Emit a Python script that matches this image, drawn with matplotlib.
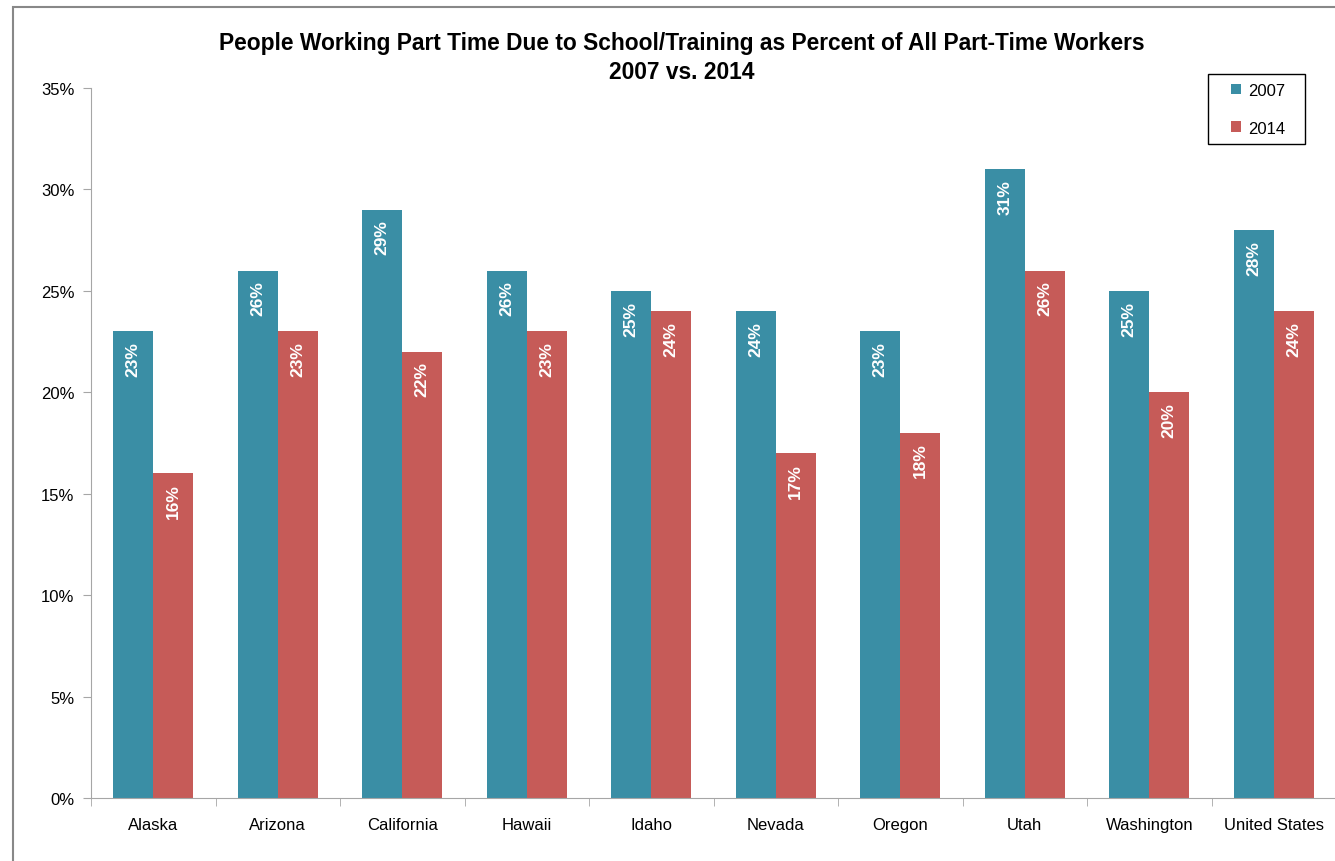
import matplotlib.pyplot as plt
from matplotlib.patches import Rectangle
import numpy as np

# Données
states = ["Alaska", "Arizona", "California", "Hawaii", "Idaho", "Nevada",
          "Oregon", "Utah", "Washington", "United States"]
pct_2007 = [23, 26, 29, 26, 25, 24, 23, 31, 25, 28]
pct_2014 = [16, 23, 22, 23, 24, 17, 18, 26, 20, 24]

teal = "#3A8EA5"
red = "#C65B58"
grey = "#A6A6A6"

plt.rcParams['font.family'] = ['Liberation Sans', 'DejaVu Sans']
narrow = ['Liberation Sans Narrow', 'Liberation Sans', 'DejaVu Sans']

W, H = 1335, 862
fig = plt.figure(figsize=(W / 100, H / 100), dpi=100)
ax = fig.add_axes([91 / W, 63 / H, 1245 / W, 710 / H])

# cadre gris autour du graphique
fig.patches.append(Rectangle((13 / W, -0.1), 1.2, (H - 8) / H + 0.1,
                             transform=fig.transFigure, fill=False,
                             edgecolor="#888888", linewidth=1.5))

x = np.arange(len(states))
w = 0.32
b1 = ax.bar(x - w / 2, pct_2007, w, color=teal, label="2007")
b2 = ax.bar(x + w / 2, pct_2014, w, color=red, label="2014")

# étiquettes dans les barres
for bars, vals in ((b1, pct_2007), (b2, pct_2014)):
    for b, v in zip(bars, vals):
        ax.annotate("{}%".format(v), (b.get_x() + b.get_width() / 2, v),
                    xytext=(0, -7), textcoords="offset points",
                    rotation=90, ha="center", va="top", color="white",
                    fontsize=12.5, fontweight="bold", family=narrow)

ax.set_xlim(-0.5, 9.5)
ax.set_ylim(0, 35)
ax.set_yticks(range(0, 36, 5))
ax.set_yticklabels(["{}%".format(v) for v in range(0, 36, 5)])
ax.set_xticks(x)
ax.set_xticklabels(states)
ax.set_xticks(np.arange(-0.5, 10, 1), minor=True)
ax.tick_params(axis="x", which="major", length=0, pad=14, labelsize=12)
ax.tick_params(axis="x", which="minor", length=6, color=grey, direction="out")
ax.tick_params(axis="y", length=6, color=grey, labelsize=12, pad=6)

for s in ("top", "right"):
    ax.spines[s].set_visible(False)
for s in ("left", "bottom"):
    ax.spines[s].set_color(grey)

fig.text(0.511, 1 - 58 / H, "People Working Part Time Due to School/Training as Percent of All Part-Time Workers\n2007 vs. 2014",
         ha="center", va="center", fontsize=16.4, fontweight="bold",
         family=narrow, linespacing=1.3)

# légende sans cadre + cadre dessiné à part
leg = ax.legend(loc="upper left", bbox_to_anchor=(1231 / W, 1 - 84 / H),
                bbox_transform=fig.transFigure, borderaxespad=0, borderpad=0,
                frameon=False, fontsize=12, handlelength=0.6,
                handleheight=0.6, handletextpad=0.4, labelspacing=1.35)
fig.patches.append(Rectangle((1208 / W, 1 - 145 / H), 97 / W, 70 / H,
                             transform=fig.transFigure, fill=False,
                             edgecolor="black", linewidth=1))

plt.savefig("out.png", dpi=100)
